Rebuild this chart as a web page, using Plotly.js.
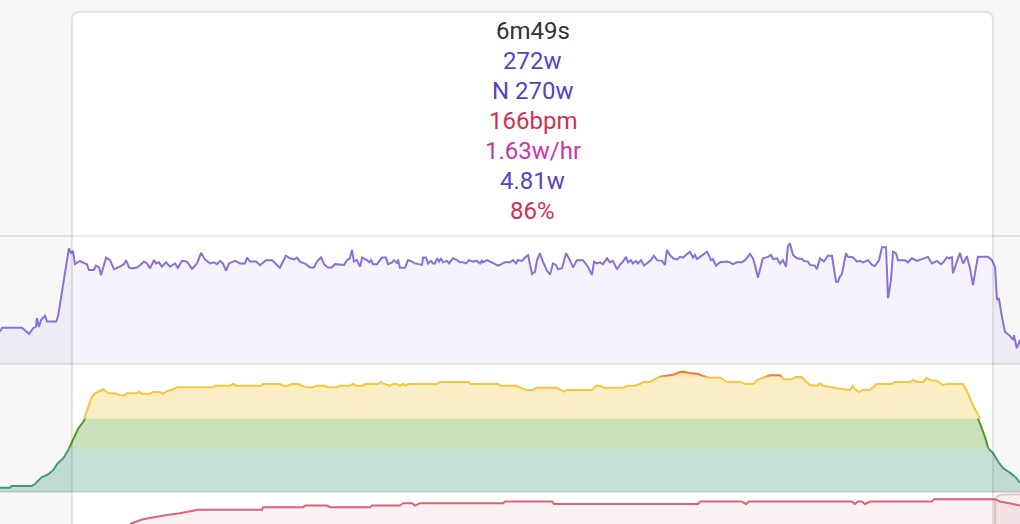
<!DOCTYPE html>
<html>
<head>
<meta charset="utf-8">
<script src="https://cdn.plot.ly/plotly-3.0.1.min.js"></script>
<style>
html,body{margin:0;padding:0;background:#f7f7f7;overflow:hidden}
#chart{width:1020px;height:524px}
</style>
</head>
<body>
<div id="chart"></div>
<script>
// ---------- data (time in seconds) ----------
const powerT = [0,0.9,9.8,12.9,14.7,16.0,16.4,17.3,18.2,20.0,20.9,24.9,25.8,30.6,31.5,32.4,33.3,35.5,37.3,38.6,39.5,41.7,42.6,44.0,44.9,47.1,48.9,50.6,53.3,55.1,56.0,57.3,58.6,60.8,62.2,64.0,65.3,66.6,68.4,69.3,70.6,71.9,73.7,75.5,77.7,79.0,80.8,83.0,85.3,87.5,89.3,91.0,93.3,95.0,96.4,97.7,99.0,100.4,101.7,104.4,106.6,108.8,109.7,111.0,113.7,115.5,118.1,120.8,124.3,127.0,128.8,130.6,131.9,133.2,135.9,137.7,139.4,140.8,142.6,143.9,145.7,147.4,148.8,151.0,152.8,154.1,155.4,156.3,157.2,158.5,159.9,160.8,163.0,163.9,164.8,165.6,167.4,169.6,171.4,172.3,174.1,175.0,176.3,176.8,177.6,179.9,181.2,183.0,184.3,187.4,187.9,189.2,190.1,191.4,192.3,193.2,194.1,195.0,195.9,196.7,198.5,199.4,201.2,203.0,204.3,205.6,207.0,208.3,210.1,211.8,213.2,214.1,214.5,216.3,218.5,221.2,224.3,226.5,227.8,229.2,230.0,231.8,233.2,234.5,236.3,237.6,238.5,239.8,241.1,242.9,244.3,245.6,246.9,247.8,249.6,251.4,253.1,254.5,256.2,258.9,261.1,262.9,263.8,265.1,266.5,267.8,269.6,270.9,272.2,274.0,275.3,276.7,278.0,278.9,280.2,281.1,282.4,283.3,284.7,286.0,287.3,289.1,290.4,291.8,294.0,295.3,296.2,297.5,298.9,300.7,302.0,303.3,306.4,307.8,308.6,309.5,310.9,314.0,315.8,316.6,318.0,319.8,322.9,324.2,325.5,327.3,329.5,330.9,333.1,334.4,335.3,336.6,338.8,341.1,342.4,343.3,345.1,346.4,347.7,349.1,349.9,350.8,352.2,353.9,356.2,357.0,358.8,359.7,361.9,362.8,364.2,365.9,367.7,369.5,371.3,372.2,373.0,373.9,375.7,376.6,378.8,380.6,381.9,383.3,385.5,387.3,388.6,390.4,391.7,393.5,394.4,395.7,396.6,397.9,398.8,401.9,403.2,405.0,407.2,409.9,412.1,413.9,415.2,416.1,417.9,419.2,420.5,421.5,422.8,423.2,425.0,426.3,427.7,429.4,430.8,432.1,434.3,436.6,438.8,440.5,441.9,442.8,443.6,445.0,446.3,448.5,449.9,450.3,451.6,453.0];
const powerW = [88,99,99,82,98,102,126,101,120,132,116,116,131,316,304,309,273,282,276,273,257,257,269,264,243,291,284,259,266,273,284,264,261,264,270,280,275,262,284,275,278,266,278,266,275,263,282,280,260,275,304,286,275,278,273,282,275,255,275,282,275,275,291,280,280,270,284,284,263,296,289,286,291,280,273,264,264,280,292,273,264,264,273,273,271,284,289,312,280,284,266,291,284,278,284,273,273,291,291,273,278,284,275,286,263,263,284,280,275,271,291,291,275,282,275,275,289,280,289,278,282,275,289,284,278,278,275,284,280,282,275,284,278,284,278,269,278,278,284,275,284,282,291,298,246,252,284,303,280,255,245,275,271,259,262,303,284,264,284,284,266,243,280,275,278,273,289,278,282,259,271,280,293,278,284,275,282,275,284,269,275,284,296,284,282,271,312,298,289,286,293,291,307,291,298,287,293,307,284,287,269,278,280,278,273,278,278,284,301,289,271,236,289,293,298,287,289,275,284,266,321,330,298,289,287,282,280,271,269,259,289,280,296,296,225,225,239,245,303,293,292,280,282,278,284,271,268,284,319,319,180,230,307,303,284,284,278,289,282,289,293,275,278,282,273,280,292,289,292,248,280,304,275,295,262,216,293,293,293,284,266,175,180,129,88,77,66,79,43,66];

const hrT = [0,4.4,5.2,14.1,15.5,18.5,21.5,23.7,25.4,28.1,30.3,32.6,34.8,37.0,38.8,40.7,42.2,44.4,45.9,48.1,51.1,53.3,55.5,56.3,60.7,61.9,62.9,66.6,68.1,71.1,72.3,74.0,77.0,78.5,94.7,95.5,102.1,103.6,105.1,116.2,116.9,124.3,125.8,128.0,129.5,132.5,134.0,136.2,139.1,140.6,144.3,145.8,149.5,151.0,155.4,156.6,158.1,161.1,162.1,168.0,169.1,170.2,172.9,174.7,176.4,177.6,179.1,180.3,181.3,193.9,195.4,208.0,209.0,221.3,222.4,229.2,230.9,233.9,236.8,238.3,247.2,249.0,250.5,251.9,262.8,264.7,266.5,268.2,276.8,278.6,282.0,284.2,285.7,288.7,290.9,293.1,296.1,299.0,302.0,303.8,305.7,310.1,312.3,314.6,319.8,322.7,328.6,330.9,334.5,336.8,339.0,342.0,346.4,348.2,351.6,353.5,356.0,357.5,359.7,362.7,364.2,365.6,371.6,377.5,378.7,379.7,381.6,383.1,386.4,389.3,396.0,397.5,404.1,405.6,407.4,410.0,411.5,413.0,416.0,418.9,420.4,427.5,429.3,432.0,433.7,435.2,437.4,438.9,441.1,443.3,445.6,448.5,450.8,453.0];
const hrBpm = [102.7,102.7,103.8,103.8,105,109.2,111.1,113.8,117.5,121.1,126.3,133.6,139.8,143.9,151.3,159.2,161.7,163.1,164.2,161.7,161.7,160.4,160.4,161.7,161.7,162.7,161.4,161.4,162.5,162.5,161.3,162.9,164.2,165.4,165.4,166.4,166.4,167.5,166.4,166.4,167.5,167.5,166.4,166.4,167.5,167.5,166.4,165.4,165.4,166.4,166.4,165.4,165.4,166.4,166.4,167.5,166.4,166.4,167.5,167.5,168.8,167.9,166.4,167.5,167.5,166.4,167.5,166.4,167.5,167.5,168.8,168.8,167.5,167.5,166.4,166.4,165.2,163.8,163.8,165.2,165.2,163.8,162.7,163.8,163.8,166.4,166.4,165.2,165.2,166.4,166.4,167.5,168.8,168.8,170.4,172.1,172.7,173.3,175,175.2,174.6,173.8,172.5,171.4,171.4,168.9,168.8,167.5,167.5,170.4,171.4,172.9,172.9,170.4,170.4,171.7,171.7,169.6,166.9,166.4,167.9,166.4,164.8,163.8,166.4,164.2,162.5,163.8,163.8,167.5,167.5,168.8,168.8,170,168.8,168.8,171.4,170,169.6,166.9,167.5,167.5,163.8,154.4,149.2,142.9,134.6,127.3,124.2,118.9,114.8,112.1,109.6,105.8];
const hrZoneBounds = [127, 146, 172];

const pctT = [0,55.5,58.5,63.5,69.7,74.2,79.9,84.4,87.9,116.4,116.8,134.6,135.5,145.2,146.6,164.3,165.2,177.6,179.0,183.0,184.3,186.5,223.4,224.3,245.1,246.0,310.0,310.9,329.5,331.3,332.6,378.4,379.7,381.0,382.8,384.1,386.4,413.9,414.8,441.9,444.1,449.9,453.0];
const pctV = [74,76,78.3,79.8,80.7,81.4,82.0,82.6,83.3,83.3,84.3,84.3,84.9,84.9,84.3,84.3,84.9,84.9,85.8,85.8,84.9,85.8,85.8,86.4,86.4,85.5,85.5,86.4,86.4,85.5,86.4,86.4,85.5,86.4,86.4,85.5,86.4,86.4,87.3,87.3,86.4,85.5,84.9];

const selection = [32, 441];
const nextSelectionStart = 442;
const infoLines = ['6m49s', '272w', 'N 270w', '166bpm', '1.63w/hr', '4.81w', '86%'];

// ---------- layout helpers ----------
const W = 1020, H = 524;
const X_RANGE = [0, 453];
const py = p => 1 - p / H;
const secPerPx = (X_RANGE[1] - X_RANGE[0]) / W;

const powerDom = [py(364), py(236)];
const hrDom = [py(492), py(364)];
const pctDom = [0, py(492)];
const HR_RANGE = [100, 180];

const zoneStyle = [
  {line: '#3f9a7c', fill: 'rgba(60,150,120,0.29)'},
  {line: '#4f9a2c', fill: 'rgba(80,160,40,0.31)'},
  {line: '#f6c63e', fill: 'rgba(245,200,60,0.30)'},
  {line: '#ee7f2d', fill: 'rgba(240,130,50,0.27)'}
];

const hiddenAxis = {visible: false, showgrid: false, zeroline: false, fixedrange: true};
const layout = {
  width: W, height: H,
  margin: {l: 0, r: 0, t: 0, b: 0, pad: 0},
  paper_bgcolor: '#f7f7f7',
  plot_bgcolor: 'rgba(0,0,0,0)',
  showlegend: false,
  hovermode: false,
  xaxis: Object.assign({range: X_RANGE, domain: [0, 1]}, hiddenAxis),
  yaxis: Object.assign({range: [0, 350], domain: powerDom, anchor: 'x'}, hiddenAxis),
  yaxis2: Object.assign({range: [78, 90], domain: pctDom, anchor: 'x'}, hiddenAxis),
  shapes: [],
  annotations: []
};

const traces = [];
traces.push({
  x: powerT, y: powerW, xaxis: 'x', yaxis: 'y', type: 'scatter', mode: 'lines',
  fill: 'tozeroy', fillcolor: 'rgba(138,111,216,0.085)',
  line: {color: '#8b70d8', width: 2}
});
traces.push({
  x: pctT, y: pctV, xaxis: 'x', yaxis: 'y2', type: 'scatter', mode: 'lines',
  fill: 'tozeroy', fillcolor: 'rgba(220,100,120,0.09)',
  line: {color: '#dc6479', width: 2}
});

// HR zones: one clipped sub-axis per zone band
const bounds = [HR_RANGE[0]].concat(hrZoneBounds, [HR_RANGE[1]]);
const hrPaper = v => hrDom[0] + (v - HR_RANGE[0]) / (HR_RANGE[1] - HR_RANGE[0]) * (hrDom[1] - hrDom[0]);
for (let i = 0; i < bounds.length - 1; i++) {
  const id = 3 + i;
  layout['yaxis' + id] = Object.assign({
    range: [bounds[i], bounds[i + 1]],
    domain: [hrPaper(bounds[i]), hrPaper(bounds[i + 1])],
    anchor: 'x'
  }, hiddenAxis);
  traces.push({
    x: hrT, y: hrBpm, xaxis: 'x', yaxis: 'y' + id, type: 'scatter', mode: 'lines',
    fill: 'tozeroy', fillcolor: zoneStyle[i].fill,
    line: {color: zoneStyle[i].line, width: 2}
  });
}

// selection box
const rx = 8 * secPerPx, ry = 8 / H;
function topRounded(x0, x1, yTop, yBot, close) {
  return `M${x0},${yBot} L${x0},${yTop - ry} Q${x0},${yTop} ${x0 + rx},${yTop} ` +
         `L${x1 - rx},${yTop} Q${x1},${yTop} ${x1},${yTop - ry} L${x1},${yBot}` + (close ? ' Z' : '');
}
const boxTop = py(12);
layout.shapes.push({
  type: 'path', xref: 'x', yref: 'paper', layer: 'below',
  path: topRounded(selection[0], selection[1], boxTop, -0.05, true),
  fillcolor: '#ffffff', line: {width: 0}
});
// separators
[236, 364, 492].forEach(p => layout.shapes.push({
  type: 'line', xref: 'paper', yref: 'paper', x0: 0, x1: 1, y0: py(p), y1: py(p),
  layer: 'above', line: {color: 'rgba(0,0,0,0.09)', width: 2}
}));
layout.shapes.push({
  type: 'path', xref: 'x', yref: 'paper', layer: 'above',
  path: topRounded(selection[0], selection[1], boxTop, -0.05, false),
  fillcolor: 'rgba(0,0,0,0)', line: {color: 'rgba(0,0,0,0.09)', width: 2}
});
// next selection (pink) box at the bottom right
layout.shapes.push({
  type: 'path', xref: 'x', yref: 'paper', layer: 'above',
  path: topRounded(nextSelectionStart, X_RANGE[1] + 20, py(494.5), -0.05, false),
  fillcolor: 'rgba(225,90,125,0.05)', line: {color: 'rgba(220,100,130,0.35)', width: 2}
});

// info text
const infoColors = ['#333333', '#5b3fc8', '#5b3fc8', '#d22f50', '#cc35a8', '#5b3fc8', '#d22f50'];
const infoY = [31.4, 61.3, 91.2, 121.1, 151.0, 180.9, 210.8];
infoLines.forEach((t, i) => layout.annotations.push({
  xref: 'x', yref: 'paper', x: (selection[0] + selection[1]) / 2, y: py(infoY[i]),
  xanchor: 'center', yanchor: 'middle', showarrow: false, text: t,
  font: {family: 'Roboto, sans-serif', size: 24, color: infoColors[i]}
}));

Plotly.newPlot('chart', traces, layout, {staticPlot: true, displayModeBar: false});
</script>
</body>
</html>
